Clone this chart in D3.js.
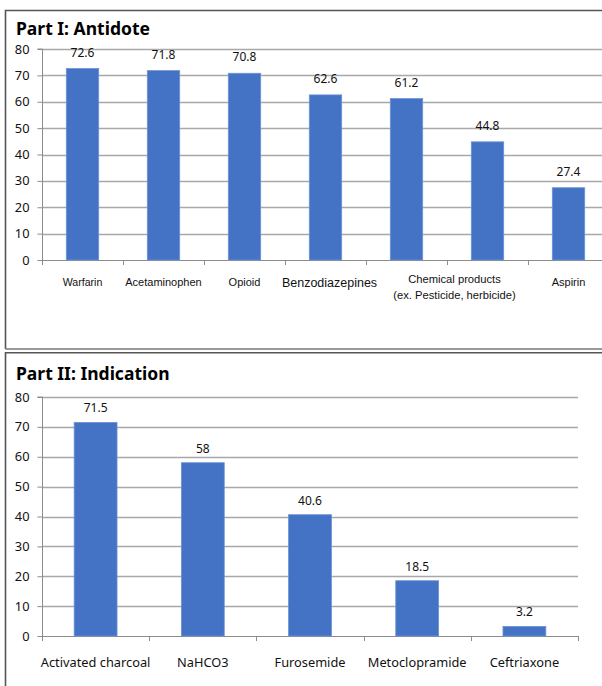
<!DOCTYPE html>
<html>
<head>
<meta charset="utf-8">
<script src="https://cdn.jsdelivr.net/npm/d3@7"></script>
<style>
  html, body { margin: 0; padding: 0; background: #fff; overflow: hidden; }
  svg { display: block; }
</style>
</head>
<body>
<svg id="chart" width="602" height="686"></svg>
<script>
// ---- Data ----
const antidoteCategories = ["Warfarin", "Acetaminophen", "Opioid", "Benzodiazepines", "Chemical products\n(ex. Pesticide, herbicide)", "", "Aspirin"];
const antidoteValues = [72.6, 71.8, 70.8, 62.6, 61.2, 44.8, 27.4];
const indicationCategories = ["Activated charcoal", "NaHCO3", "Furosemide", "Metoclopramide", "Ceftriaxone"];
const indicationValues = [71.5, 58, 40.6, 18.5, 3.2];
const yTicks = [0, 10, 20, 30, 40, 50, 60, 70, 80];
const titles = ["Part I: Antidote", "Part II: Indication"];

const svg = d3.select("#chart");
const barColor = "#4472c4";
const gridColor = "#a8a8a8";
const axisColor = "#8c8c8c";
const uiFont = "'Noto Sans', 'Open Sans', sans-serif";
const arialFont = "'Liberation Sans', Arial, sans-serif";

// Panel borders
svg.append("path")
  .attr("d", "M5.5,349 L5.5,10.5 L610,10.5")
  .attr("fill", "none").attr("stroke", "#555").attr("stroke-width", 1.6);
svg.append("path")
  .attr("d", "M5.5,349 L610,349")
  .attr("fill", "none").attr("stroke", "#777").attr("stroke-width", 1.4);
svg.append("path")
  .attr("d", "M5.5,700 L5.5,352.8 L610,352.8")
  .attr("fill", "none").attr("stroke", "#555").attr("stroke-width", 1.6);

function drawPanel(cfg) {
  const g = svg.append("g");
  const keys = cfg.values.map((d, i) => i);
  const x = d3.scaleBand().domain(keys).range([cfg.x0, cfg.x1]).paddingInner(cfg.pad).paddingOuter(cfg.pad / 2);
  const y = d3.scaleLinear().domain([0, 80]).range([cfg.y0, cfg.y80]);

  // title
  g.append("text").attr("x", 16).attr("y", cfg.titleY)
    .attr("font-family", uiFont).attr("font-weight", "bold")
    .attr("font-size", 17.5).attr("fill", "#000").text(cfg.title);

  // gridlines
  g.append("g").selectAll("line").data(yTicks.filter(d => d > 0)).join("line")
    .attr("x1", cfg.x0).attr("x2", cfg.gridEnd)
    .attr("y1", d => Math.round(y(d)) + 0.5).attr("y2", d => Math.round(y(d)) + 0.5)
    .attr("stroke", gridColor).attr("stroke-width", 1.3);

  // y axis
  const yAxis = d3.axisLeft(y).tickValues(yTicks).tickSize(5).tickPadding(8).tickFormat(d3.format("d"));
  const ya = g.append("g").attr("transform", `translate(${cfg.x0 + 0.5},0)`).call(yAxis);
  ya.select(".domain").attr("stroke", axisColor).attr("d", `M-5,${cfg.y80}H0V${cfg.y0}`);
  ya.selectAll(".tick line").attr("stroke", axisColor);
  ya.selectAll(".tick text").attr("font-family", uiFont).attr("font-size", 12.8).attr("fill", "#111");

  // x axis (category boundaries)
  const bounds = keys.map(k => x(k) - x.step() * x.paddingInner() / 2);
  bounds.push(cfg.x1);
  g.append("line").attr("x1", cfg.x0).attr("x2", cfg.axisEnd)
    .attr("y1", Math.round(cfg.y0) + 0.5).attr("y2", Math.round(cfg.y0) + 0.5)
    .attr("stroke", axisColor);
  g.append("g").selectAll("line").data(bounds).join("line")
    .attr("x1", d => Math.round(d) + 0.5).attr("x2", d => Math.round(d) + 0.5)
    .attr("y1", cfg.y0).attr("y2", cfg.y0 + 5).attr("stroke", axisColor);

  // bars
  g.append("g").selectAll("rect").data(cfg.values).join("rect")
    .attr("x", (d, i) => x(i))
    .attr("width", x.bandwidth())
    .attr("y", d => y(d))
    .attr("height", d => y(0) - y(d))
    .attr("fill", barColor)
    .attr("stroke", "#6b93d6").attr("stroke-width", 0.8);

  // value labels
  g.append("g").selectAll("text").data(cfg.values).join("text")
    .attr("x", (d, i) => x(i) + x.bandwidth() / 2)
    .attr("y", d => y(d) - cfg.valGap)
    .attr("text-anchor", "middle")
    .attr("font-family", uiFont).attr("font-size", 12).attr("fill", "#111")
    .text(d => d);

  // category labels
  cfg.categories.forEach((lab, i) => {
    if (!lab) return;
    const st = cfg.labelStyle(i);
    const cx = x(i) + x.bandwidth() / 2 + st.dx;
    const lines = lab.split("\n");
    const t = g.append("text").attr("text-anchor", "middle")
      .attr("font-family", st.font).attr("font-size", st.size).attr("fill", "#111");
    lines.forEach((ln, j) => {
      t.append("tspan").attr("x", cx)
        .attr("y", st.y + j * st.lh - (lines.length - 1) * st.lh / 2)
        .text(ln);
    });
  });
  return x;
}

// Panel I
drawPanel({
  title: titles[0], titleY: 35,
  values: antidoteValues, categories: antidoteCategories,
  x0: 42, x1: 609, pad: 0.6,
  y0: 260, y80: 49,
  gridEnd: 610, axisEnd: 610, valGap: 12,
  labelStyle: i => {
    if (i === 3) return { font: arialFont, size: 12.5, y: 287, lh: 16, dx: 4 };
    if (i === 4) return { font: arialFont, size: 11.2, y: 291, lh: 15.5, dx: 48 };
    return { font: arialFont, size: i === 0 ? 10.6 : 11, y: 286, lh: 16, dx: 0 };
  }
});

// Panel II
drawPanel({
  title: titles[1], titleY: 380,
  values: indicationValues, categories: indicationCategories,
  x0: 42, x1: 578, pad: 0.6,
  y0: 636, y80: 397,
  gridEnd: 578, axisEnd: 578, valGap: 10,
  labelStyle: i => ({ font: uiFont, size: 12.8, y: 667, lh: 17, dx: 0 })
});
</script>
</body>
</html>
